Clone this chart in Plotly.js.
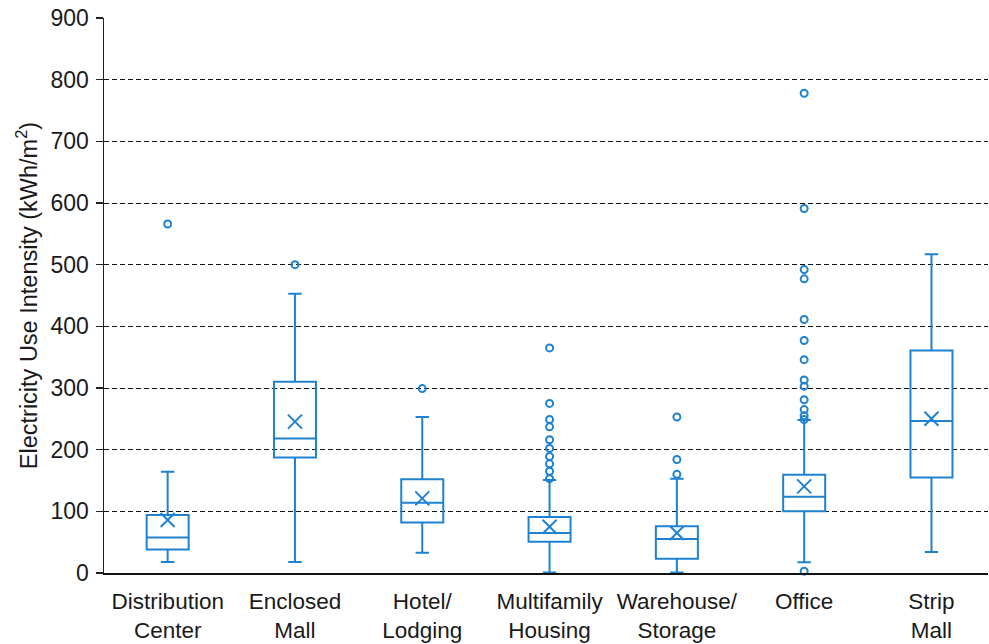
<!DOCTYPE html>
<html>
<head>
<meta charset="utf-8">
<script src="https://cdn.plot.ly/plotly-3.0.1.min.js"></script>
<style>
  html, body { margin: 0; padding: 0; background: #fff; }
  #chart { width: 989px; height: 644px; }
</style>
</head>
<body>
<div id="chart"></div>
<script>
// Electricity use intensity by building type (kWh/m2)
const categories = [
  'Distribution<br>Center', 'Enclosed<br>Mall', 'Hotel/<br>Lodging',
  'Multifamily<br>Housing', 'Warehouse/<br>Storage', 'Office', 'Strip<br>Mall'
];
const lowerWhisker = [18, 18, 33, 1, 1, 17.5, 34];
const q1           = [38, 187.5, 82, 50.5, 23, 100, 155];
const median       = [57.5, 218, 114, 65, 55, 123.5, 246.5];
const q3           = [94, 310, 152, 91, 76, 159.5, 361];
const upperWhisker = [164, 453, 253, 151, 153, 248, 517];
const means        = [86, 245.5, 121, 75, 65, 140.5, 250];

const outliersDistribution = [566];
const outliersEnclosedMall = [500];
const outliersHotel        = [299];
const outliersMultifamily  = [365, 275, 249, 237, 216, 202, 189, 177, 165, 153];
const outliersWarehouse    = [253, 184, 160];
const outliersOffice       = [778, 591, 492, 477, 411, 377, 346, 313, 303, 281, 265, 255, 249, 3];
const outliersStripMall    = [];

const outlierGroups = [
  outliersDistribution, outliersEnclosedMall, outliersHotel, outliersMultifamily,
  outliersWarehouse, outliersOffice, outliersStripMall
];

const blue = '#1F82D0';
const ink = '#1a1a1a';
const font = 'Liberation Sans, Arial, sans-serif';

const outX = [], outY = [];
outlierGroups.forEach((grp, i) => grp.forEach(v => { outX.push(categories[i]); outY.push(v); }));

const boxes = {
  type: 'box',
  x: categories,
  q1: q1,
  median: median,
  q3: q3,
  lowerfence: lowerWhisker,
  upperfence: upperWhisker,
  boxpoints: false,
  width: 0.33,
  whiskerwidth: 0.32,
  line: { color: blue, width: 2 },
  fillcolor: 'rgba(0,0,0,0)',
  hoverinfo: 'skip'
};

const meanMarks = {
  type: 'scatter',
  mode: 'markers',
  x: categories,
  y: means,
  marker: { symbol: 'x-thin-open', size: 14, color: blue, line: { color: blue, width: 2 } },
  cliponaxis: false,
  hoverinfo: 'skip'
};

const outlierMarks = {
  type: 'scatter',
  mode: 'markers',
  x: outX,
  y: outY,
  marker: { symbol: 'circle-open', size: 7, color: blue, line: { color: blue, width: 2 } },
  cliponaxis: false,
  hoverinfo: 'skip'
};

const layout = {
  width: 989,
  height: 644,
  margin: { l: 104, r: 1, t: 18, b: 71 },
  paper_bgcolor: '#fff',
  plot_bgcolor: '#fff',
  showlegend: false,
  hovermode: false,
  font: { family: font, color: ink, size: 23 },
  xaxis: {
    type: 'category',
    range: [-0.5, 6.444],
    showline: true,
    linecolor: '#111',
    linewidth: 1.5,
    ticks: '',
    showgrid: false,
    zeroline: false,
    ticklabelstandoff: 7,
    tickfont: { family: font, size: 22.5, color: ink }
  },
  yaxis: {
    range: [0, 900],
    dtick: 100,
    showgrid: true,
    gridcolor: '#111',
    gridwidth: 1,
    griddash: '5px,3px',
    zeroline: false,
    showline: true,
    linecolor: '#222',
    linewidth: 1.5,
    ticks: 'outside',
    ticklen: 7,
    tickcolor: '#222',
    tickwidth: 1.5,
    ticklabelstandoff: 2,
    tickfont: { family: font, size: 23, color: ink },
    title: {
      text: 'Electricity Use Intensity (kWh/m<sup>2</sup>)',
      font: { family: font, size: 23.5, color: ink },
      standoff: 6
    }
  }
};

Plotly.newPlot('chart', [boxes, meanMarks, outlierMarks], layout, { displayModeBar: false, staticPlot: true });
</script>
</body>
</html>
